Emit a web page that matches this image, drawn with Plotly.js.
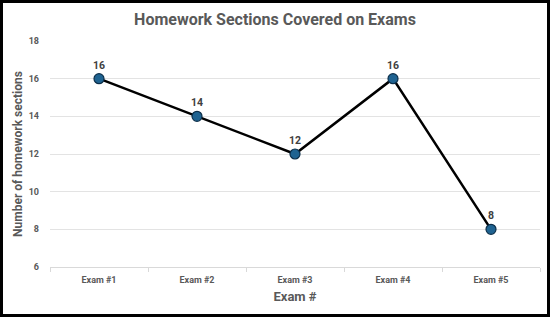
<!DOCTYPE html>
<html>
<head>
<meta charset="utf-8">
<script src="https://cdn.plot.ly/plotly-3.0.1.min.js"></script>
<style>
html,body{margin:0;padding:0;background:#fff;}
#frame{position:absolute;left:0;top:0;width:550px;height:317px;box-sizing:border-box;border:3px solid #000;}
#chart{position:absolute;left:0;top:0;width:550px;height:317px;}
</style>
</head>
<body>
<div id="chart"></div>
<div id="frame"></div>
<script>
const categories = ["Exam #1", "Exam #2", "Exam #3", "Exam #4", "Exam #5"];
const sections = [16, 14, 12, 16, 8];
const yTicks = [6, 8, 10, 12, 14, 16, 18];

const FONT = "Roboto, Open Sans, sans-serif";

const trace = {
  x: categories,
  y: sections,
  type: "scatter",
  mode: "lines+markers+text",
  text: sections.map(String),
  textposition: "top center",
  textfont: {family: FONT, size: 10.5, color: "#404040", weight: "bold"},
  line: {color: "#000000", width: 2.5},
  marker: {size: 10, color: "#1F6391", line: {color: "#0C2F4A", width: 1.2}},
  cliponaxis: false,
  hoverinfo: "none"
};

const layout = {
  width: 550,
  height: 317,
  margin: {l: 50, r: 10, t: 41, b: 50},
  paper_bgcolor: "#ffffff",
  plot_bgcolor: "#ffffff",
  showlegend: false,
  title: {
    text: "<b>Homework Sections Covered on Exams</b>",
    font: {family: FONT, size: 16, color: "#595959"},
    x: 0.5, xanchor: "center",
    y: 0.94, yanchor: "middle"
  },
  xaxis: {
    type: "category",
    range: [-0.5, 4.5],
    tickson: "boundaries",
    ticks: "outside",
    ticklen: 4,
    tickcolor: "#D9D9D9",
    showline: true,
    linecolor: "#D9D9D9",
    linewidth: 1,
    showgrid: false,
    ticklabelstandoff: 4,
    tickfont: {family: FONT, size: 9, color: "#595959", weight: "bold"},
    title: {text: "<b>Exam #</b>", font: {family: FONT, size: 13, color: "#595959"}, standoff: 8}
  },
  yaxis: {
    range: [6, 18],
    tickvals: yTicks,
    ticktext: yTicks.map(String),
    showgrid: true,
    gridcolor: "#E3E3E3",
    gridwidth: 1,
    zeroline: false,
    showline: false,
    ticks: "",
    ticklabelstandoff: 10,
    tickfont: {family: FONT, size: 9, color: "#595959", weight: "bold"},
    title: {text: "<b>Number of homework sections</b>", font: {family: FONT, size: 12, color: "#595959"}, standoff: 3}
  }
};

Plotly.newPlot("chart", [trace], layout, {displayModeBar: false, staticPlot: true});
</script>
</body>
</html>
